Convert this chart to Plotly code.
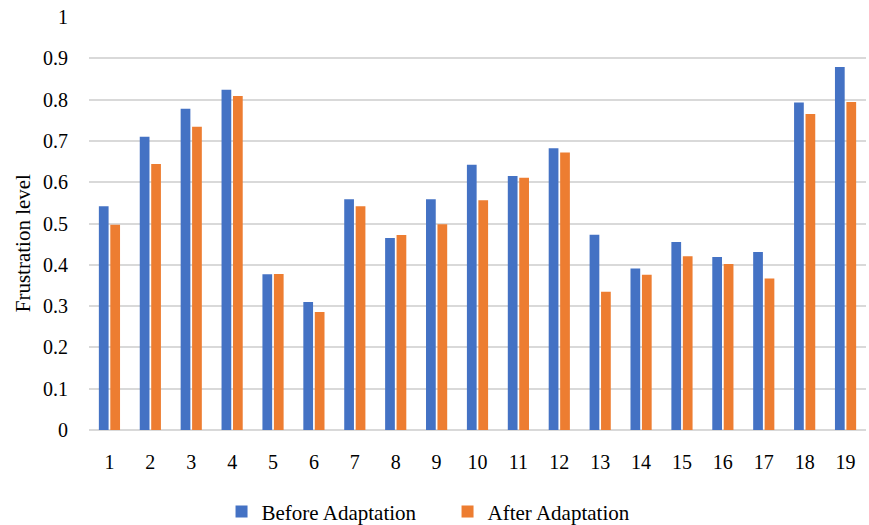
import plotly.graph_objects as go

categories = [str(i) for i in range(1, 20)]
before = [0.542, 0.710, 0.778, 0.824, 0.377, 0.310, 0.559, 0.465, 0.559, 0.642,
          0.615, 0.682, 0.473, 0.391, 0.455, 0.419, 0.431, 0.793, 0.879]
after = [0.497, 0.644, 0.734, 0.809, 0.378, 0.286, 0.542, 0.472, 0.498, 0.556,
         0.611, 0.672, 0.335, 0.376, 0.421, 0.402, 0.367, 0.765, 0.794]
y_ticks = [0, 0.1, 0.2, 0.3, 0.4, 0.5, 0.6, 0.7, 0.8, 0.9, 1]
y_tick_labels = ["0", "0.1", "0.2", "0.3", "0.4", "0.5", "0.6", "0.7", "0.8", "0.9", "1"]
y_title = "Frustration level"

FONT = "Liberation Serif"

fig = go.Figure()
fig.add_trace(go.Bar(x=categories, y=before, name="Before Adaptation",
                     marker=dict(color="#4472C4", line=dict(width=0))))
fig.add_trace(go.Bar(x=categories, y=after, name="After Adaptation",
                     marker=dict(color="#ED7D31", line=dict(width=0))))

fig.update_layout(
    width=869, height=525,
    margin=dict(l=89, r=3, t=17, b=95),
    paper_bgcolor="white", plot_bgcolor="white",
    barmode="group", bargap=0.44, bargroupgap=0.15,
    font=dict(family=FONT, size=20, color="#000000"),
    showlegend=True,
    legend=dict(orientation="h", xref="container", yref="container",
                x=0.515, xanchor="center", y=0.025, yanchor="middle",
                font=dict(family=FONT, size=21), entrywidth=181,
                itemwidth=30),
    annotations=[dict(text=y_title, textangle=-90, showarrow=False,
                      xref="paper", yref="paper", x=-0.085, y=0.452,
                      xanchor="center", yanchor="middle",
                      font=dict(family=FONT, size=21, color="#000000"))],
)
fig.update_xaxes(type="category", showgrid=False, showline=False, zeroline=False,
                 ticks="", tickfont=dict(family=FONT, size=20), ticklabelstandoff=18)
fig.update_yaxes(range=[0, 1], tickvals=y_ticks, ticktext=y_tick_labels,
                 showgrid=True, gridcolor="#D9D9D9", gridwidth=1.5,
                 zeroline=True, zerolinecolor="#D9D9D9", zerolinewidth=1.5,
                 showline=False, ticks="", ticklabelstandoff=20,
                 tickfont=dict(family=FONT, size=20))

fig.write_html("out.html")
